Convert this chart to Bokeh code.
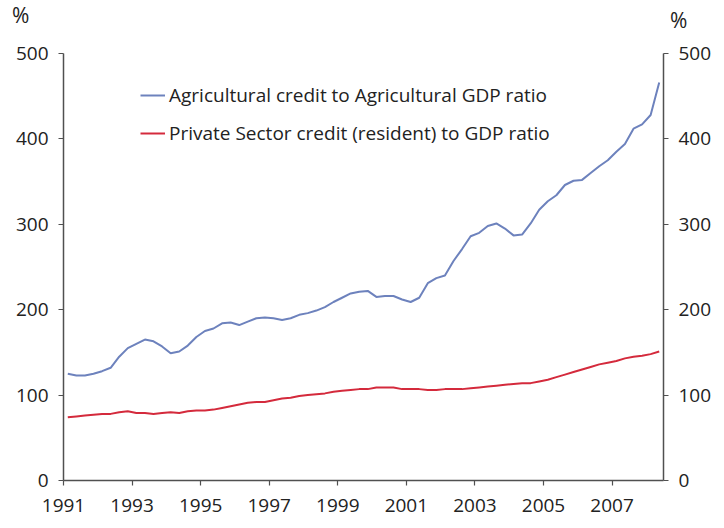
from bokeh.plotting import figure
from bokeh.models import (Range1d, LinearAxis, FixedTicker, Legend, LegendItem,
                          ColumnDataSource, Div)
from bokeh.layouts import column
from bokeh.embed import file_html
from bokeh.resources import INLINE

# Quarterly data, 1991 Q1 - 2008 Q2
agri_ratio = [
    125, 123, 123, 125,   # 1991
    128, 132, 145, 155,   # 1992
    160, 165, 163, 157,   # 1993
    149, 151, 158, 168,   # 1994
    175, 178, 184, 185,   # 1995
    182, 186, 190, 191,   # 1996
    190, 188, 190, 194,   # 1997
    196, 199, 203, 209,   # 1998
    214, 219, 221, 222,   # 1999
    215, 216, 216, 212,   # 2000
    209, 214, 231, 237,   # 2001
    240, 257, 271, 286,   # 2002
    290, 298, 301, 295,   # 2003
    287, 288, 301, 317,   # 2004
    327, 334, 346, 351,   # 2005
    352, 360, 368, 375,   # 2006
    385, 394, 412, 417,   # 2007
    428, 466,             # 2008
]
private_ratio = [
    74, 75, 76, 77,
    78, 78, 80, 81,
    79, 79, 78, 79,
    80, 79, 81, 82,
    82, 83, 85, 87,
    89, 91, 92, 92,
    94, 96, 97, 99,
    100, 101, 102, 104,
    105, 106, 107, 107,
    109, 109, 109, 107,
    107, 107, 106, 106,
    107, 107, 107, 108,
    109, 110, 111, 112,
    113, 114, 114, 116,
    118, 121, 124, 127,
    130, 133, 136, 138,
    140, 143, 145, 146,
    148, 151,
]
start_year = 1991
quarter_times = [start_year + (i + 0.5) / 4 for i in range(len(agri_ratio))]
x_ticks = [1991, 1993, 1995, 1997, 1999, 2001, 2003, 2005, 2007]
y_ticks = [0, 100, 200, 300, 400, 500]
labels = ["Agricultural credit to Agricultural GDP ratio",
          "Private Sector credit (resident) to GDP ratio"]
unit_label = "%"

FONT = "Open Sans"
TXT = "#222222"
AX = "#505050"
BLUE = "#6d82bd"
RED = "#d42a3c"
FS = "19px"

p = figure(width=716, height=498, output_backend="svg", toolbar_location=None,
           x_range=Range1d(1991, 2008.5), y_range=Range1d(0, 500),
           min_border_left=63, min_border_right=53, min_border_top=23,
           min_border_bottom=48)
p.outline_line_color = None
p.xgrid.visible = False
p.ygrid.visible = False
p.background_fill_color = "white"
p.border_fill_color = "white"

src = ColumnDataSource(dict(t=quarter_times, a=agri_ratio, b=private_ratio))
r1 = p.line("t", "a", source=src, line_color=BLUE, line_width=2)
r2 = p.line("t", "b", source=src, line_color=RED, line_width=2)

p.extra_y_ranges = {"right": Range1d(0, 500)}
right_axis = LinearAxis(y_range_name="right")
p.add_layout(right_axis, "right")

for ax in p.xaxis:
    ax.ticker = FixedTicker(ticks=x_ticks)
    ax.major_label_standoff = 13
for ax in list(p.yaxis):
    ax.ticker = FixedTicker(ticks=y_ticks)
    ax.major_label_standoff = 10

for ax in list(p.xaxis) + list(p.yaxis):
    ax.axis_line_color = AX
    ax.axis_line_width = 1.5
    ax.major_tick_line_color = AX
    ax.major_tick_line_width = 1.2
    ax.major_tick_out = 5
    ax.major_tick_in = 0
    ax.minor_tick_line_color = None
    ax.major_label_text_font = FONT
    ax.major_label_text_font_size = FS
    ax.major_label_text_color = TXT

legend = Legend(items=[LegendItem(label=labels[0], renderers=[r1]),
                       LegendItem(label=labels[1], renderers=[r2])],
                location=(77, 334), orientation="vertical")
legend.border_line_color = None
legend.background_fill_alpha = 0
legend.label_text_font = FONT
legend.label_text_font_size = FS
legend.label_text_color = TXT
legend.glyph_width = 25
legend.glyph_height = 20
legend.label_height = 20
legend.label_standoff = 4
legend.spacing = 12
legend.padding = 0
legend.margin = 0
p.add_layout(legend, "center")

header = Div(
    width=716, height=30,
    text=(f'<div style="position:relative;width:716px;height:30px;'
          f'font-family:\'{FONT}\';font-size:21px;color:{TXT};line-height:1;">'
          f'<span style="position:absolute;left:12px;top:5px;">{unit_label}</span>'
          f'<span style="position:absolute;left:670px;top:10px;">{unit_label}</span>'
          f'</div>'),
    styles={"margin": "0", "padding": "0"},
)

layout = column(header, p, spacing=0)
open("out.html", "w").write(file_html(layout, INLINE))
